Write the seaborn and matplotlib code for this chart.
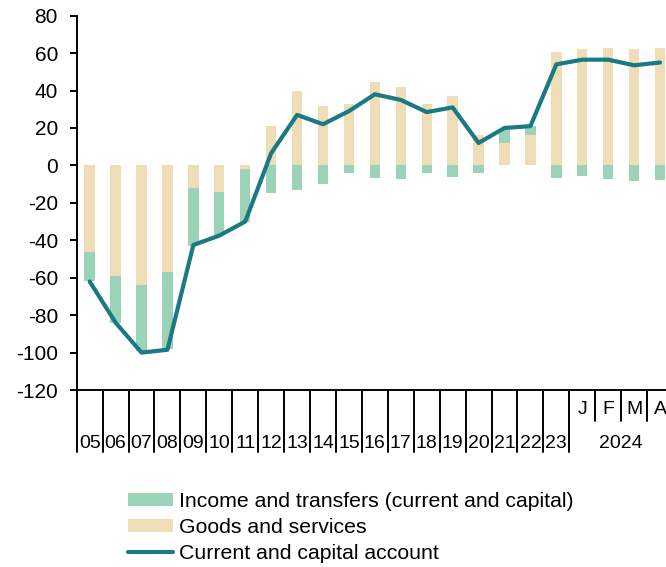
import numpy as np
import pandas as pd
import matplotlib
matplotlib.use('Agg')
import matplotlib.pyplot as plt
import seaborn as sns
from matplotlib.transforms import blended_transform_factory
from matplotlib.patches import Patch
from matplotlib.lines import Line2D

# ---- data ----
years = ['05', '06', '07', '08', '09', '10', '11', '12', '13', '14', '15', '16',
         '17', '18', '19', '20', '21', '22', '23']
months = ['J', 'F', 'M', 'A']
month_year = '2024'
goods = [-46, -59, -64, -57, -12, -14, -2, 21, 40, 32, 33, 44.5, 42, 33, 37, 16,
         12, 16.5, 60.5, 62, 63, 62, 63]
income = [-16, -25, -35, -41, -31, -23, -28, -15, -13, -10, -4, -6.5, -7, -4, -6, -4,
          7, 4.5, -6.5, -5.5, -7, -8.5, -8]
account = [-62, -84, -100, -98.5, -42.5, -37.5, -30, 6.5, 27, 22, 29, 38, 35, 28.5,
           31, 12, 20, 21, 54, 56.5, 56.5, 53.5, 55]
labels = ['Income and transfers (current and capital)', 'Goods and services',
          'Current and capital account']

GREEN = '#9AD3B8'
BEIGE = '#EEDDB6'
TEAL = '#1A7982'

cats = years + months
n = len(cats)
df = pd.DataFrame({'cat': cats, 'pos': np.arange(n), 'goods': goods,
                   'income': income, 'account': account})
g = np.array(goods)
inc = np.array(income)
# income segment stacks on goods when same sign, else starts from zero
df['income_extent'] = np.where(np.sign(g) == np.sign(inc), g + inc, inc)

sns.set_theme(style='white')
plt.rcParams['font.family'] = ['Liberation Sans', 'DejaVu Sans']
plt.rcParams['axes.unicode_minus'] = False
plt.rcParams['text.color'] = 'black'

fig = plt.figure(figsize=(6.66, 5.67), dpi=100)
ax = fig.add_axes([76.7 / 666, (567 - 390) / 567, (673 - 76.7) / 666, (390 - 15.7) / 567])

sns.barplot(data=df, x='cat', y='income_extent', order=cats, color=GREEN,
            saturation=1, width=0.4, errorbar=None, linewidth=0, ax=ax)
sns.barplot(data=df, x='cat', y='goods', order=cats, color=BEIGE,
            saturation=1, width=0.4, errorbar=None, linewidth=0, ax=ax)
sns.lineplot(data=df, x='pos', y='account', color=TEAL, lw=3, ax=ax,
             solid_capstyle='round', solid_joinstyle='round', zorder=5)

ax.set_xlim(-0.5, n - 0.5)
ax.set_ylim(-120, 80)
ax.set_yticks(np.arange(-120, 81, 20))
ax.set_xticks([])
ax.set_xlabel('')
ax.set_ylabel('')
for s in ['top', 'right']:
    ax.spines[s].set_visible(False)
for s in ['left', 'bottom']:
    ax.spines[s].set_color('black')
    ax.spines[s].set_linewidth(1.4)
ax.tick_params(axis='y', left=True, direction='out', length=5, width=1.4,
               pad=8.5, labelsize=15, colors='black')
ax.grid(False)

trans = blended_transform_factory(ax.transData, ax.transAxes)
ny = len(years)
XFS = 14
for i, y in enumerate(years):
    ax.text(i, -0.142, y, ha='center', va='center', fontsize=XFS, transform=trans)
for i in range(ny + 1):
    x = i - 0.5
    ax.plot([x, x], [0, -0.1657], transform=trans, clip_on=False, color='black', lw=1.4)
for j, m in enumerate(months):
    ax.text(ny + j, -0.0534, m, ha='center', va='center', fontsize=XFS, transform=trans)
for j in range(1, len(months)):
    x = ny + j - 0.5
    ax.plot([x, x], [0, -0.0828], transform=trans, clip_on=False, color='black', lw=1.4)
ax.text(ny + (len(months) - 1) / 2, -0.142, month_year, ha='center', va='center',
        fontsize=XFS, transform=trans)

handles = [Patch(facecolor=GREEN, edgecolor='none'),
           Patch(facecolor=BEIGE, edgecolor='none'),
           Line2D([0], [0], color=TEAL, lw=3, solid_capstyle='round')]
fig.legend(handles, labels, loc='upper left', bbox_to_anchor=(128 / 666, 0.1325),
           frameon=False, fontsize=15.3, handlelength=2.1, handleheight=0.55,
           handletextpad=0.3, labelspacing=0.33, borderpad=0, borderaxespad=0)

fig.savefig('out.png', dpi=100)
